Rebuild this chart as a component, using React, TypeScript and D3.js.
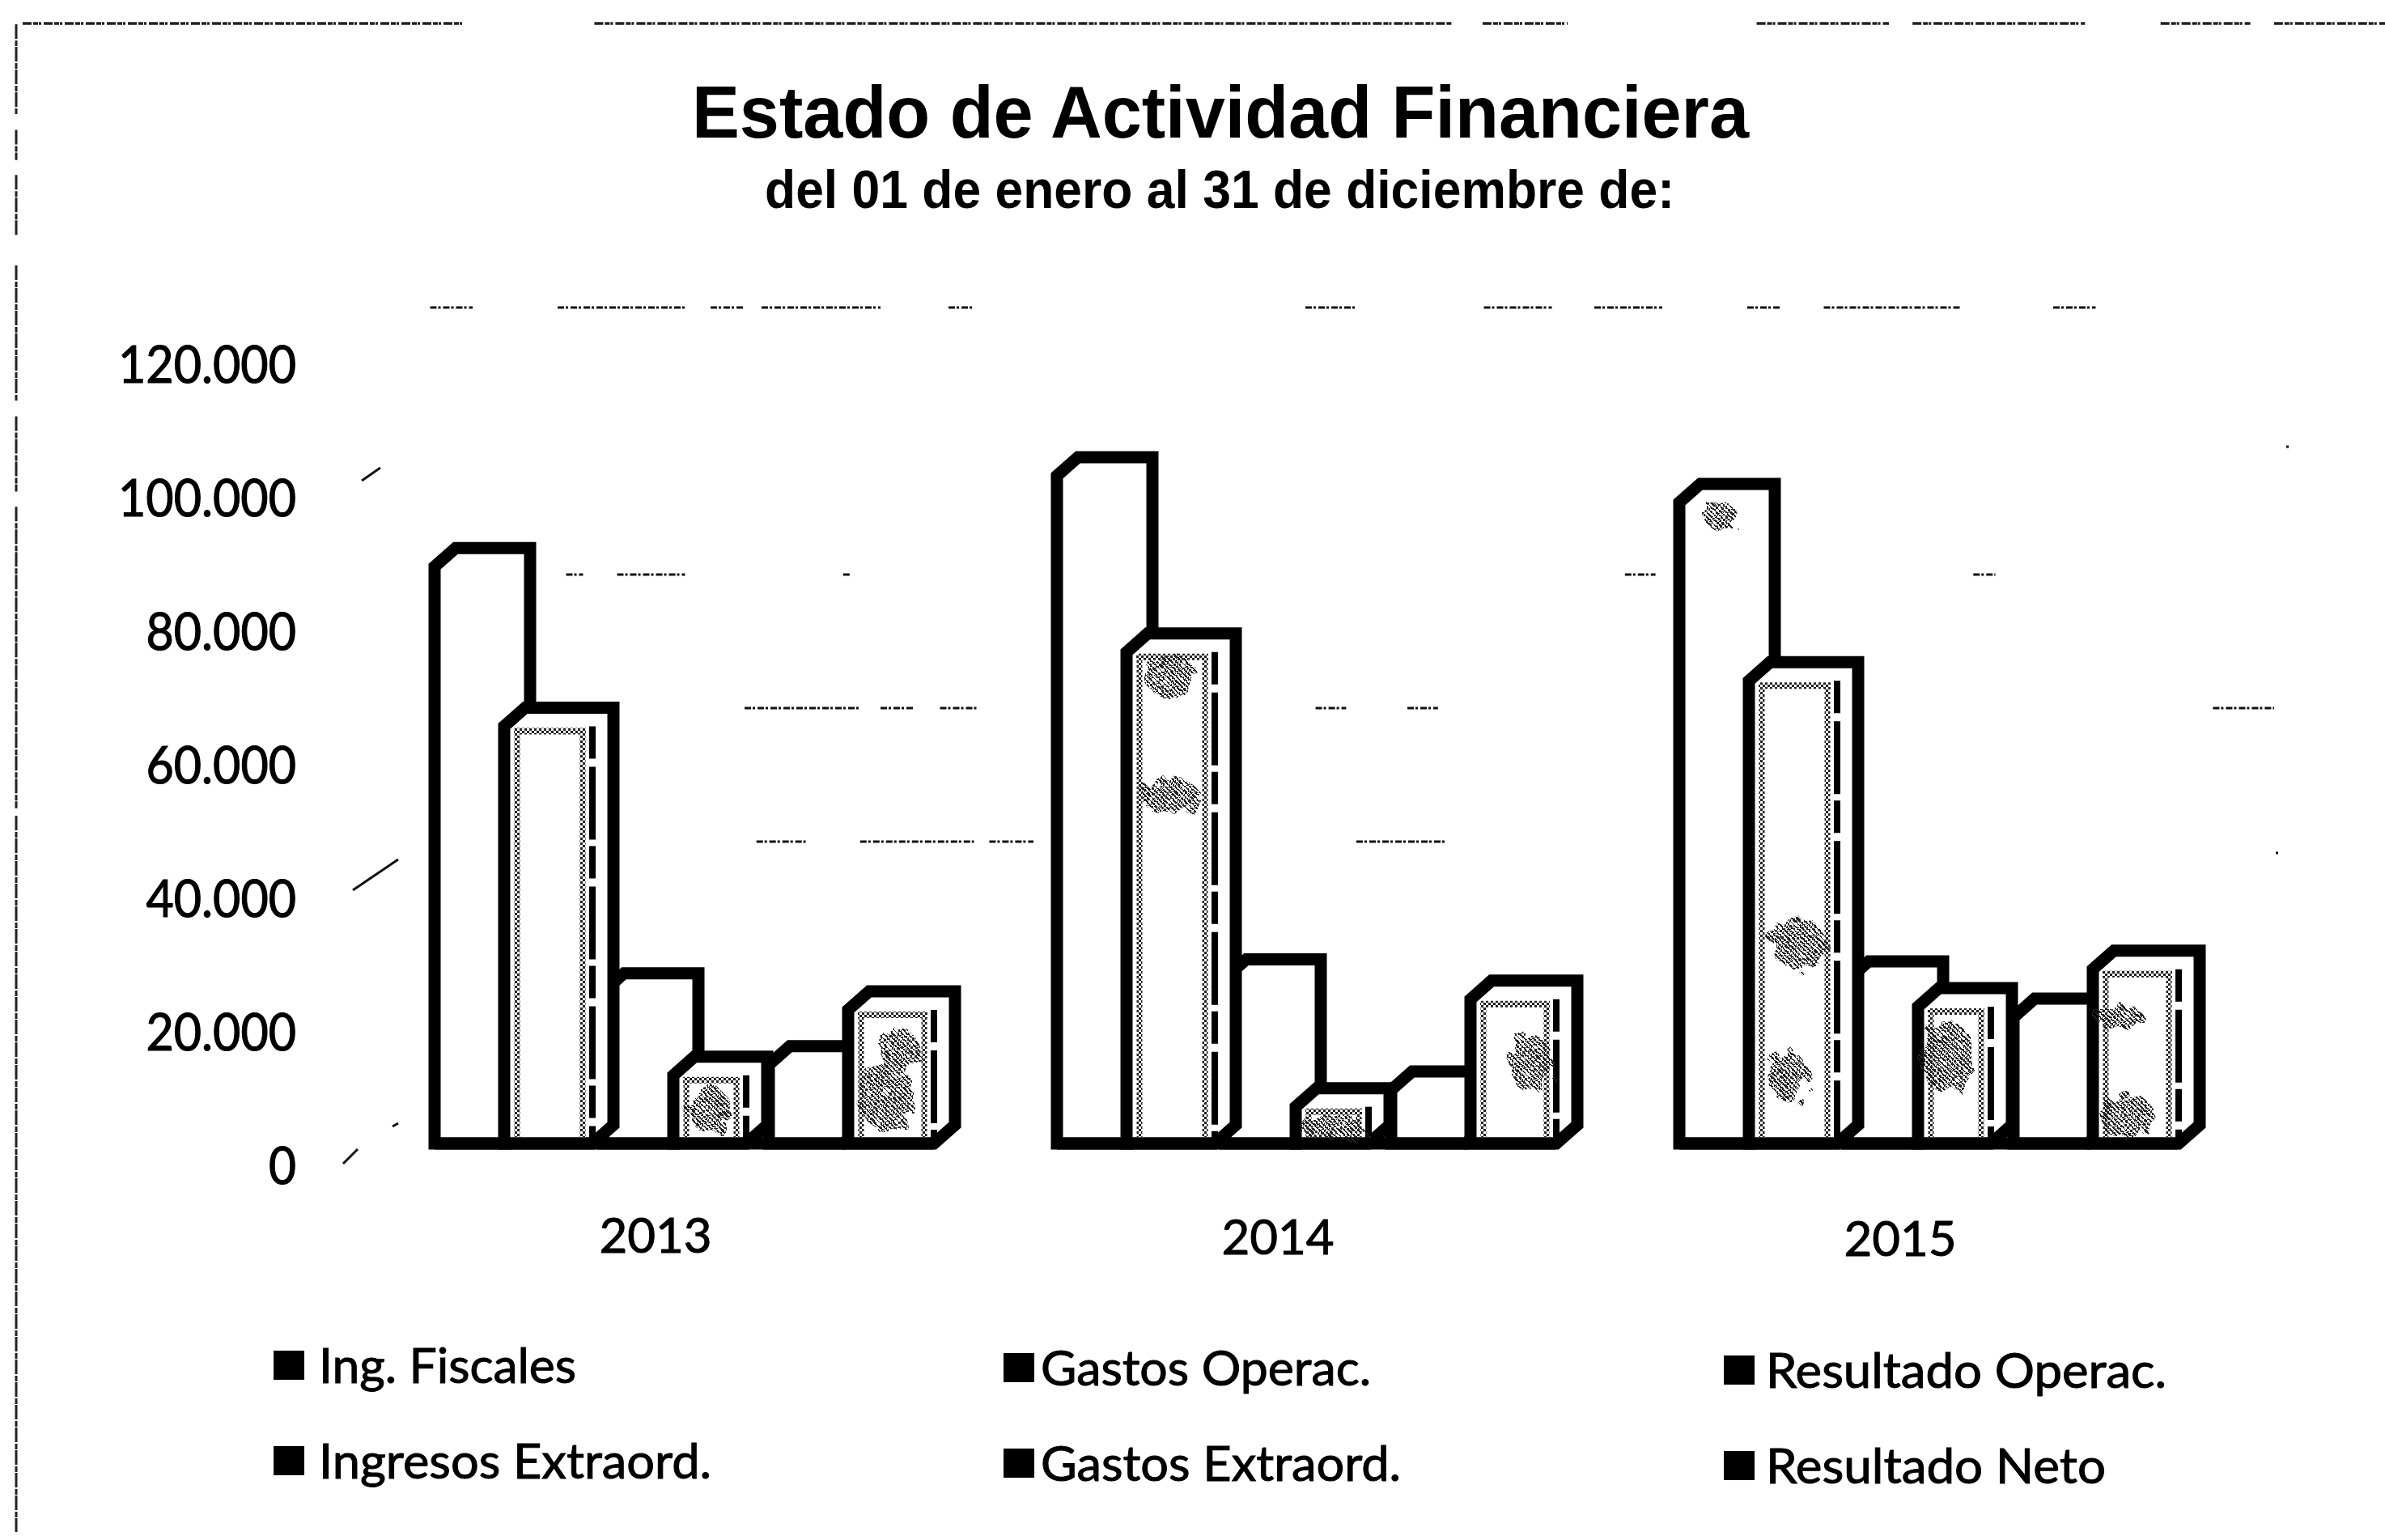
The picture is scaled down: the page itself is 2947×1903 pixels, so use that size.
import React from 'react';
import * as d3 from 'd3';

const years = ['2013', '2014', '2015'];
const ingFiscales = [86400, 100000, 96000];
const gastosOperac = [62500, 73600, 69300];
const resultadoOperac = [22700, 24800, 24500];
const ingresosExtra = [10200, 5500, 20500];
const gastosExtra = [11800, 8000, 18900];
const resultadoNeto = [20000, 21600, 26100];
const seriesNames = ['Ing. Fiscales', 'Gastos Operac.', 'Resultado Operac.', 'Ingresos Extraord.', 'Gastos Extraord.', 'Resultado Neto'];
const seriesValues = [ingFiscales, gastosOperac, resultadoOperac, ingresosExtra, gastosExtra, resultadoNeto];
const yTicks = [0, 20000, 40000, 60000, 80000, 100000, 120000];
const tickLabels = ['0', '20.000', '40.000', '60.000', '80.000', '100.000', '120.000'];

// scan residue of the gridlines: [tick value, from, to] as share of the plot width
const gridScraps: [number, number, number][] = [
  [120000, 0.015, 0.04], [120000, 0.09, 0.165], [120000, 0.18, 0.2], [120000, 0.21, 0.28], [120000, 0.32, 0.335],
  [120000, 0.53, 0.56], [120000, 0.635, 0.675], [120000, 0.7, 0.74], [120000, 0.79, 0.81], [120000, 0.835, 0.915], [120000, 0.97, 0.995],
  [80000, 0.095, 0.105], [80000, 0.125, 0.165], [80000, 0.258, 0.262], [80000, 0.718, 0.736], [80000, 0.923, 0.936],
  [60000, 0.2, 0.268], [60000, 0.28, 0.3], [60000, 0.315, 0.337], [60000, 0.536, 0.554], [60000, 0.59, 0.608], [60000, 1.064, 1.1],
  [40000, 0.207, 0.236], [40000, 0.268, 0.335], [40000, 0.344, 0.37], [40000, 0.56, 0.612]
];
const topScraps: [number, number][] = [
  [0, 0.187], [0.242, 0.605], [0.618, 0.654], [0.734, 0.79], [0.8, 0.873], [0.905, 0.943], [0.953, 1]
];
const leftScraps: [number, number][] = [
  [0.0, 0.06], [0.07, 0.09], [0.1, 0.14], [0.16, 0.25], [0.26, 0.31], [0.32, 0.52], [0.525, 1]
];
// stray specks of the scan: [x1, y1, x2, y2]
const strays: [number, number, number, number][] = [
  [447, 594, 470, 578], [436, 1100, 492, 1062], [424, 1438, 442, 1420], [485, 1392, 492, 1388], [2825, 552, 2828, 552], [2812, 1054, 2815, 1054]
];
// stippled blotches: [year index, series index, share across the bar, value, rx, ry]
const blotches: [number, number, number, number, number, number][] = [
  [0, 3, 0.5, 5000, 26, 28], [0, 5, 0.45, 7000, 34, 42], [0, 5, 0.6, 14000, 24, 26],
  [1, 1, 0.5, 52000, 36, 22], [1, 1, 0.5, 70000, 32, 26], [1, 3, 0.5, 2500, 40, 16], [1, 5, 0.7, 12000, 26, 36],
  [2, 1, 0.55, 30000, 34, 32], [2, 1, 0.45, 10000, 24, 32], [2, 3, 0.4, 13000, 34, 44], [2, 5, 0.4, 4000, 34, 28], [2, 5, 0.3, 19000, 30, 14],
  [2, 0, 0.55, 94000, 20, 18]
];

const W = 2947, H = 1903;
const sans = '"Liberation Sans", Arial, sans-serif';
const lato = 'Lato, "Open Sans", sans-serif';
const barOffset = [0, 86, 208, 295, 413, 511];
const barWidth = [92, 109, 92, 90, 92, 106];

export default function App() {
  const y = d3.scaleLinear().domain([0, 120000]).range([1441, 451]);
  const gx = d3.scalePoint<string>().domain(years).range([537, 2075]);
  const floor = 28, dx = 26, dy = 23;
  const barX = (g: number, s: number) => (gx(years[g]) as number) + barOffset[s];
  const topF = (v: number) => y(v) - floor;
  const base = y(0) - floor;
  const line = d3.line();
  const barPath = (g: number, s: number) => {
    const x = barX(g, s), t = topF(seriesValues[s][g]), w = barWidth[s];
    return line([[x, base], [x, t], [x + dx, t - dy], [x + w + dx, t - dy], [x + w + dx, base - dy], [x + w, base]]) + 'Z';
  };
  const gridX = d3.scaleLinear().domain([0, 1]).range([500, 2600]);
  const topX = d3.scaleLinear().domain([0, 1]).range([28, W]);
  const leftY = d3.scaleLinear().domain([0, 1]).range([30, H - 10]);
  const odd = [0, 2, 4], even = [1, 3, 5];
  const legendX = [338, 1240, 2130];
  const legendTextX = [394, 1286, 2182];
  const legendLen = [318, 408, 495, 485, 445, 420];
  const legendY = [1688, 1806];
  const tickLen = (s: string) => (s === '0' ? 34 : (s.length - 1) * 34.5 + 13);
  return (
    <svg width={W} height={H} viewBox={`0 0 ${W} ${H}`} style={{ position: 'fixed', left: 0, top: 0, background: '#fff' }}>
      <defs>
        <pattern id="stip" width="6" height="6" patternUnits="userSpaceOnUse">
          <rect width="3" height="3" fill="#222" />
          <rect x="3" y="3" width="3" height="3" fill="#222" />
        </pattern>
        <filter id="rough" x="-30%" y="-30%" width="160%" height="160%">
          <feTurbulence type="fractalNoise" baseFrequency="0.06" numOctaves="2" seed="4" />
          <feDisplacementMap in="SourceGraphic" scale="26" />
        </filter>
      </defs>
      {topScraps.map(([a, b], i) => (
        <line key={i} x1={topX(a)} x2={topX(b)} y1={29} y2={29} stroke="#222" strokeWidth={3.5} strokeDasharray="11 2 6 1 3 3" />
      ))}
      {leftScraps.map(([a, b], i) => (
        <line key={i} x1={20} x2={20} y1={leftY(a)} y2={leftY(b)} stroke="#222" strokeWidth={3} strokeDasharray="18 2 7 1" />
      ))}
      {gridScraps.map(([v, a, b], i) => (
        <line key={i} x1={gridX(a)} x2={gridX(b)} y1={y(v) - 71} y2={y(v) - 71} stroke="#111" strokeWidth={3} strokeDasharray="8 2 3 3" />
      ))}
      {strays.map(([a, b, c, d], i) => (
        <line key={i} x1={a} y1={b} x2={c} y2={d} stroke="#111" strokeWidth={3} />
      ))}
      <text x={1508} y={170} textAnchor="middle" fontFamily={sans} fontWeight="700" fontSize={90} fill="#000" textLength={1306} lengthAdjust="spacingAndGlyphs">Estado de Actividad Financiera</text>
      <text x={1507} y={257} textAnchor="middle" fontFamily={sans} fontWeight="700" fontSize={66} fill="#000" textLength={1124} lengthAdjust="spacingAndGlyphs">del 01 de enero al 31 de diciembre de:</text>
      {yTicks.map((t, i) => (
        <text key={t} x={366} y={y(t)} dy="0.35em" textAnchor="end" fontFamily={lato} fontSize={64} fill="#000" stroke="#000" strokeWidth={1.2} textLength={tickLen(tickLabels[i])} lengthAdjust="spacingAndGlyphs">{tickLabels[i]}</text>
      ))}
      {years.map((yr, g) => (
        <g key={yr}>
          {odd.map((s) => (
            <path key={s} d={barPath(g, s)} fill="#fff" stroke="#000" strokeWidth={15} strokeLinejoin="miter" />
          ))}
          {even.map((s) => {
            const x = barX(g, s), t = topF(seriesValues[s][g]), w = barWidth[s];
            return (
              <g key={s}>
                <path d={barPath(g, s)} fill="#fff" stroke="#000" strokeWidth={15} strokeLinejoin="miter" />
                <line x1={x + w} x2={x + w} y1={t} y2={base} stroke="#000" strokeWidth={8} strokeDasharray="40 10 90 8" />
                <line x1={x + 16} x2={x + 16} y1={t + 8} y2={base - 8} stroke="url(#stip)" strokeWidth={7} />
                <line x1={x + w - 12} x2={x + w - 12} y1={t + 8} y2={base - 8} stroke="url(#stip)" strokeWidth={7} />
                <line x1={x + 12} x2={x + w - 8} y1={t + 6} y2={t + 6} stroke="url(#stip)" strokeWidth={8} />
              </g>
            );
          })}
          <line x1={barX(g, 0)} x2={barX(g, 5) + barWidth[5]} y1={base} y2={base} stroke="#000" strokeWidth={15} />
          {blotches.filter((b) => b[0] === g).map(([, s, f, v, rx, ry], i) => (
            <ellipse key={i} cx={barX(g, s) + f * barWidth[s]} cy={topF(v)} rx={rx} ry={ry} fill="url(#stip)" filter="url(#rough)" />
          ))}
          <text x={(gx(yr) as number) + 273} y={1548 + g * 2} textAnchor="middle" fontFamily={lato} fontSize={60} fill="#000" stroke="#000" strokeWidth={1}>{yr}</text>
        </g>
      ))}
      {seriesNames.map((name, i) => {
        const col = i % 3, row = Math.floor(i / 3);
        const lx = legendX[col], ly = legendY[row] + col * 3;
        return (
          <g key={name}>
            <rect x={lx} y={ly - 19} width={38} height={36} fill="#000" />
            <text x={legendTextX[col]} y={ly} dy="0.35em" fontFamily={lato} fontSize={60} fill="#000" stroke="#000" strokeWidth={1} textLength={legendLen[i]} lengthAdjust="spacingAndGlyphs">{name}</text>
          </g>
        );
      })}
    </svg>
  );
}
